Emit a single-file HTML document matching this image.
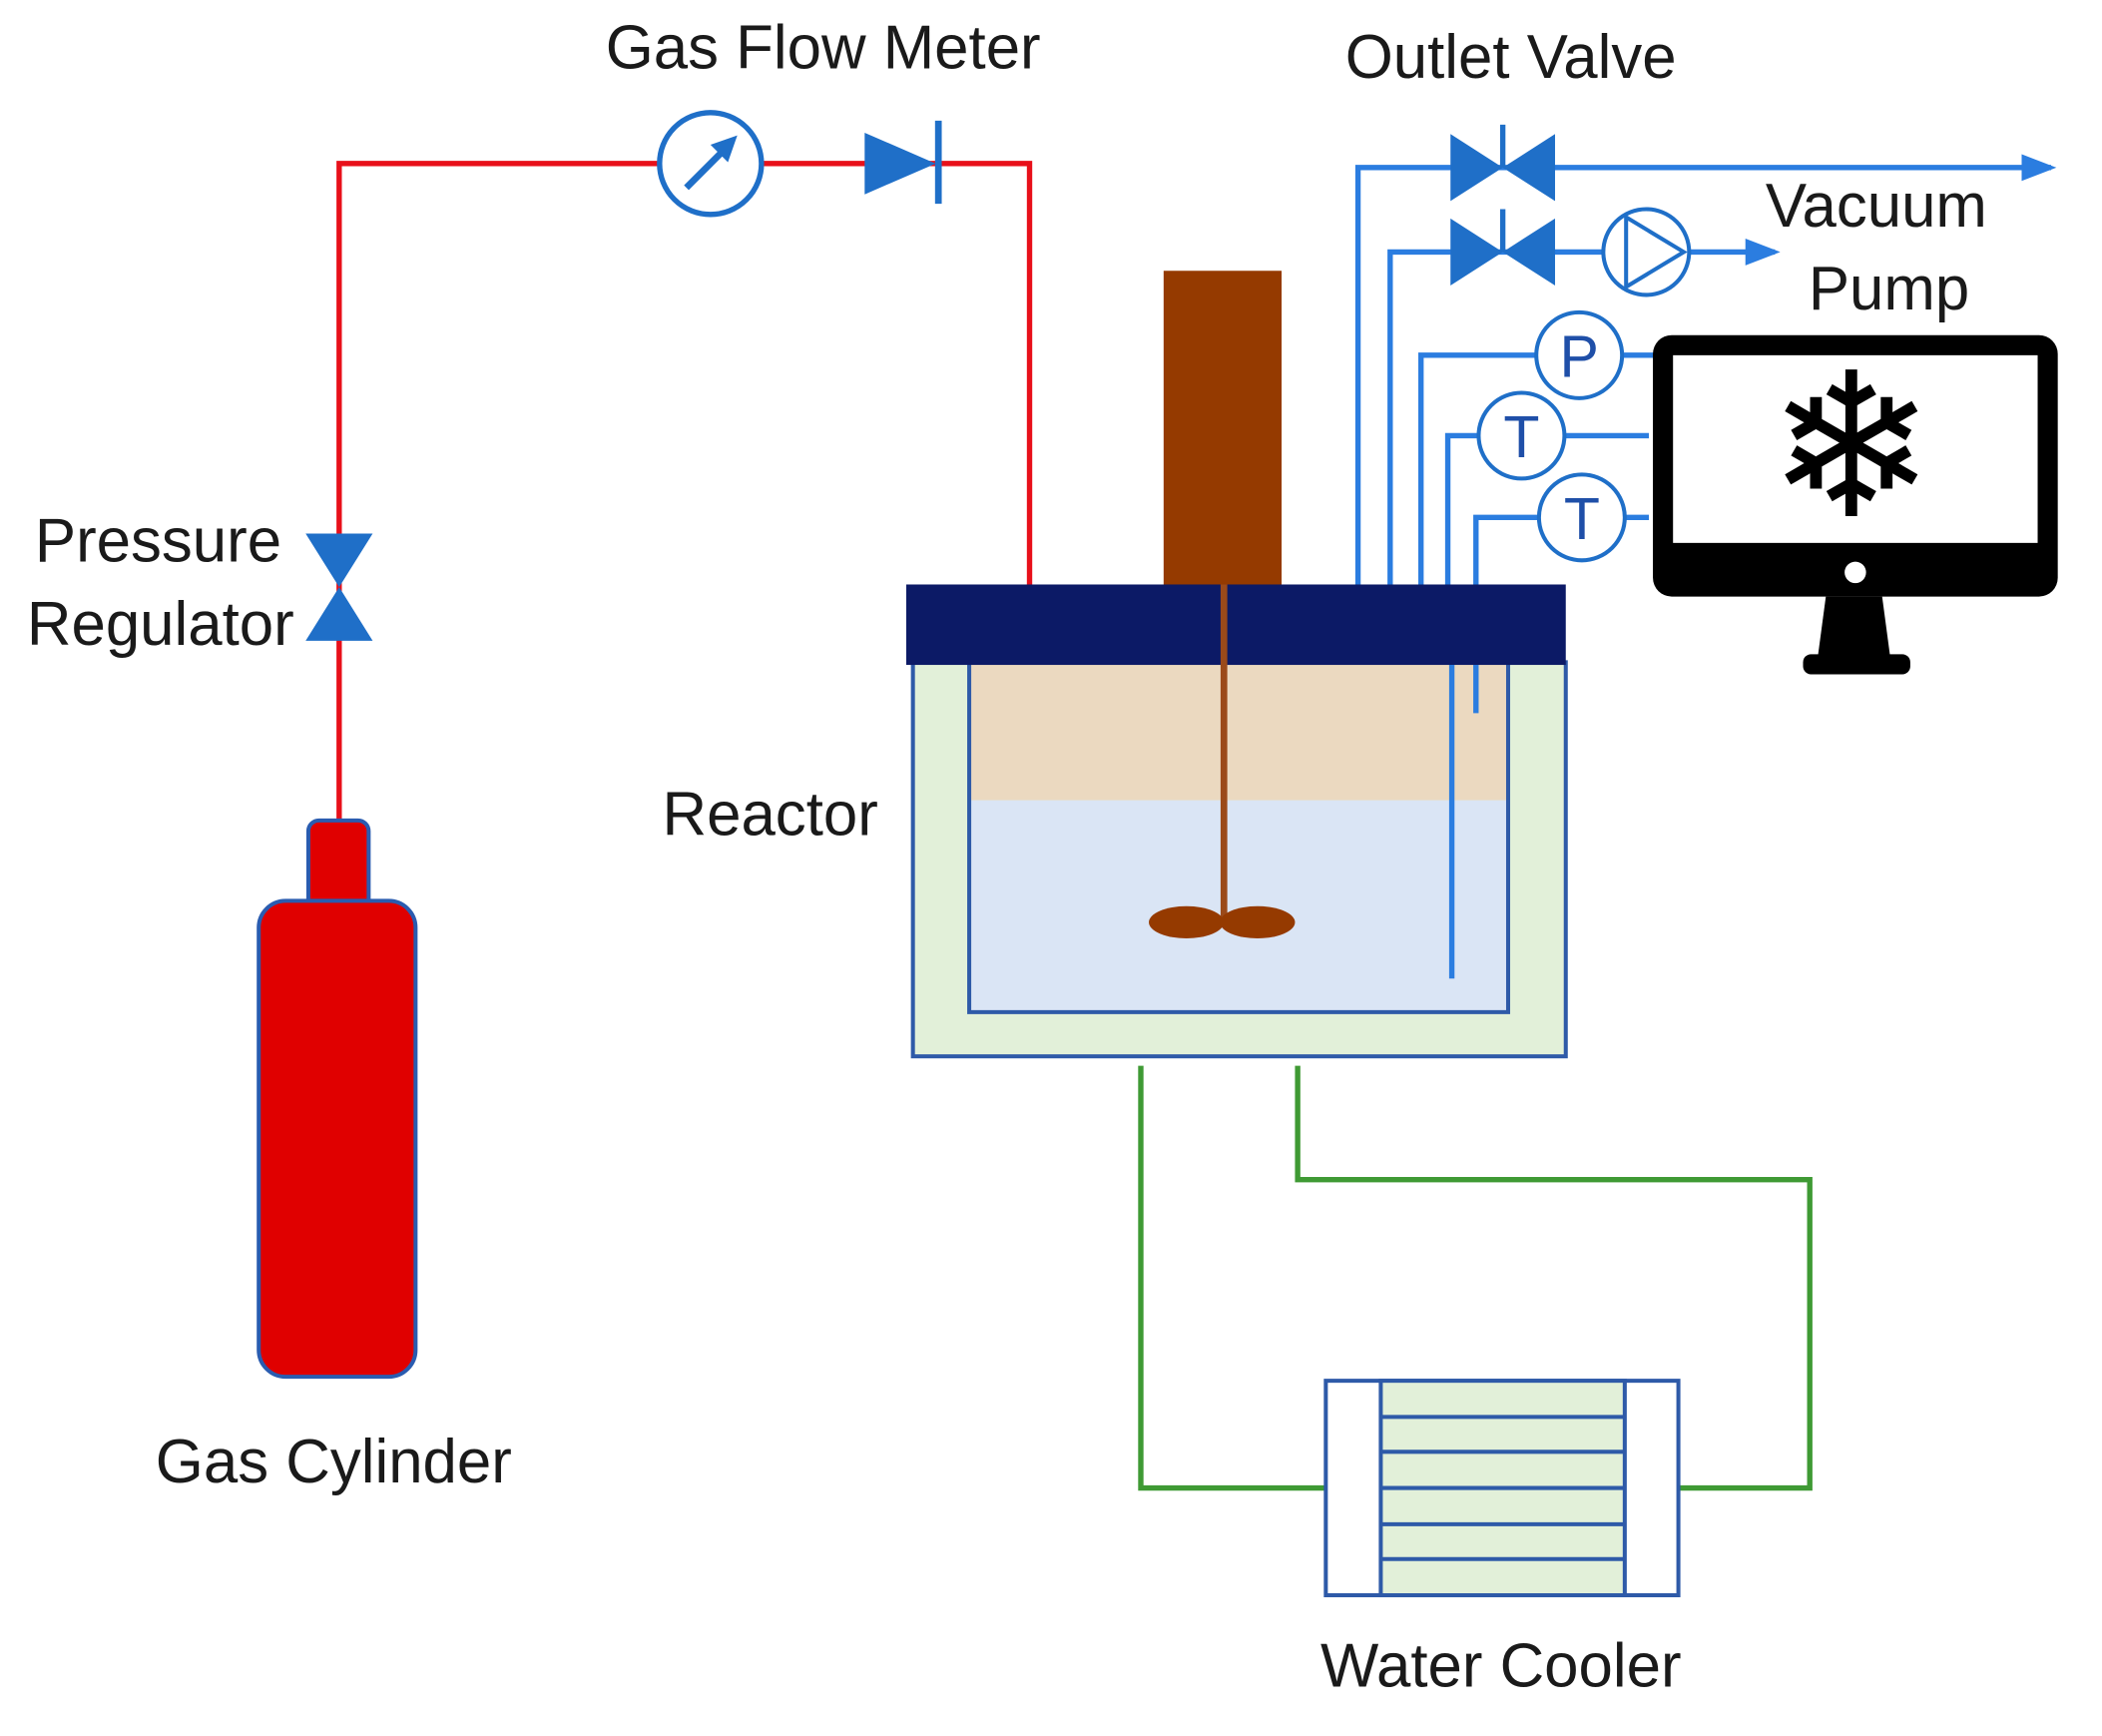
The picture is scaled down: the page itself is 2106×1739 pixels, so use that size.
<!DOCTYPE html>
<html><head><meta charset="utf-8"><style>
html,body{margin:0;padding:0;background:#fff;}
svg{display:block;}
text{font-family:"Liberation Sans",sans-serif;fill:#1a1a1a;}
</style></head><body>
<svg width="2106" height="1739" viewBox="0 0 1568 1295" preserveAspectRatio="none" xmlns="http://www.w3.org/2000/svg">
<defs>
<marker id="ah" markerWidth="26" markerHeight="20" refX="22" refY="10" orient="auto" markerUnits="userSpaceOnUse" viewBox="0 0 26 20"><path d="M0,0 L26,10 L0,20 z" fill="#2b7de0"/></marker>
</defs>
<!-- red gas line -->
<polyline points="253,612 253,122 768,122 768,437" fill="none" stroke="#e8101a" stroke-width="4"/>
<!-- flow meter -->
<circle cx="530" cy="122" r="38" fill="#fff" stroke="#1f6fc8" stroke-width="4"/>
<line x1="512" y1="140" x2="545" y2="107" stroke="#1f6fc8" stroke-width="5"/>
<path d="M550,101 L530,108 L543,121 z" fill="#1f6fc8"/>
<!-- check valve -->
<path d="M645,99 L645,145 L698,122 z" fill="#1f6fc8"/>
<line x1="700" y1="90" x2="700" y2="152" stroke="#1f6fc8" stroke-width="5"/>
<!-- pressure regulator -->
<path d="M228,398 L278,398 L253,438 z M253,438 L228,478 L278,478 z" fill="#1f6fc8"/>
<!-- gas cylinder -->
<rect x="230" y="612" width="45" height="70" rx="8" fill="#e00000" stroke="#2a5cb0" stroke-width="3"/>
<rect x="193" y="672" width="117" height="355" rx="20" fill="#e00000" stroke="#2a5cb0" stroke-width="3"/>
<!-- labels -->
<text x="614" y="51" font-size="46" text-anchor="middle">Gas Flow Meter</text>
<text x="1127" y="58" font-size="46" text-anchor="middle">Outlet Valve</text>
<text x="26" y="419" font-size="46">Pressure</text>
<text x="20" y="481" font-size="46">Regulator</text>
<text x="494" y="623" font-size="46">Reactor</text>
<text x="116" y="1106" font-size="46">Gas Cylinder</text>
<text x="985" y="1258" font-size="46">Water Cooler</text>
<text x="1317" y="169" font-size="46">Vacuum</text>
<text x="1349" y="231" font-size="46">Pump</text>
<!-- blue lines -->
<g fill="none" stroke="#2b7de0" stroke-width="4">
<polyline points="1013,436 1013,125 1530,125" marker-end="url(#ah)"/>
<polyline points="1037,436 1037,188 1324,188" marker-end="url(#ah)"/>
<polyline points="1060,436 1060,265 1235,265"/>
<polyline points="1080,730 1080,325 1230,325"/>
<polyline points="1101,532 1101,386 1230,386"/>
</g>
<!-- outlet valves -->
<path d="M1082,100 L1082,150 L1121,125 z M1160,100 L1160,150 L1121,125 z" fill="#1f6fc8"/>
<line x1="1121" y1="93" x2="1121" y2="125" stroke="#1f6fc8" stroke-width="4"/>
<path d="M1082,163 L1082,213 L1121,188 z M1160,163 L1160,213 L1121,188 z" fill="#1f6fc8"/>
<line x1="1121" y1="156" x2="1121" y2="188" stroke="#1f6fc8" stroke-width="4"/>
<!-- pump -->
<circle cx="1228" cy="188" r="32" fill="#fff" stroke="#1f6fc8" stroke-width="3"/>
<path d="M1213,162 L1213,214 L1256,188 z" fill="none" stroke="#1f6fc8" stroke-width="3"/>
<!-- P, T circles -->
<g fill="#fff" stroke="#1f6fc8" stroke-width="3">
<circle cx="1178" cy="265" r="32"/><circle cx="1135" cy="325" r="32"/><circle cx="1180" cy="386" r="32"/>
</g>
<text x="1178" y="281" font-size="44" text-anchor="middle" style="fill:#1f4fa8">P</text>
<text x="1135" y="341" font-size="44" text-anchor="middle" style="fill:#1f4fa8">T</text>
<text x="1180" y="402" font-size="44" text-anchor="middle" style="fill:#1f4fa8">T</text>
<!-- monitor -->
<rect x="1233" y="250" width="302" height="195" rx="14" fill="#000"/>
<rect x="1248" y="265" width="272" height="140" fill="#fff"/>
<circle cx="1384" cy="427" r="8" fill="#fff"/>
<path d="M1362,445 L1404,445 L1410,490 L1356,490 z" fill="#000"/>
<rect x="1345" y="488" width="80" height="15" rx="6" fill="#000"/>
<text x="1381" y="385" font-size="150" text-anchor="middle" style="font-family:'DejaVu Sans',sans-serif;fill:#000">❄</text>
<!-- reactor -->
<rect x="868" y="202" width="88" height="236" fill="#953a00"/>
<rect x="681" y="494" width="487" height="294" fill="#e2f0d9" stroke="#2e5aa8" stroke-width="3"/>
<rect x="723" y="494" width="402" height="103" fill="#ebd9c0"/>
<rect x="723" y="597" width="402" height="157" fill="#dae5f5"/>
<polyline points="723,494 723,755 1125,755 1125,494" fill="none" stroke="#2e5aa8" stroke-width="3"/>
<rect x="676" y="436" width="492" height="60" fill="#0c1a66"/>
<line x1="913" y1="436" x2="913" y2="690" stroke="#9b4a1a" stroke-width="5"/>
<ellipse cx="885" cy="688" rx="28" ry="12" fill="#953a00"/>
<ellipse cx="938" cy="688" rx="28" ry="12" fill="#953a00"/>
<line x1="1083" y1="496" x2="1083" y2="730" stroke="#2b7de0" stroke-width="4"/>
<line x1="1101" y1="496" x2="1101" y2="532" stroke="#2b7de0" stroke-width="4"/>
<!-- green lines -->
<g fill="none" stroke="#3f9a34" stroke-width="4">
<polyline points="851,795 851,1110 990,1110"/>
<polyline points="968,795 968,880 1350,880 1350,1110 1252,1110"/>
</g>
<!-- water cooler -->
<rect x="989" y="1030" width="263" height="160" fill="#fff" stroke="#2e5aa8" stroke-width="3"/>
<rect x="1030" y="1030" width="182" height="160" fill="#e2f0d9" stroke="#2e5aa8" stroke-width="3"/>
<g stroke="#2e5aa8" stroke-width="3">
<line x1="1030" y1="1057" x2="1212" y2="1057"/>
<line x1="1030" y1="1083" x2="1212" y2="1083"/>
<line x1="1030" y1="1110" x2="1212" y2="1110"/>
<line x1="1030" y1="1137" x2="1212" y2="1137"/>
<line x1="1030" y1="1163" x2="1212" y2="1163"/>
</g>
</svg>
</body></html>
